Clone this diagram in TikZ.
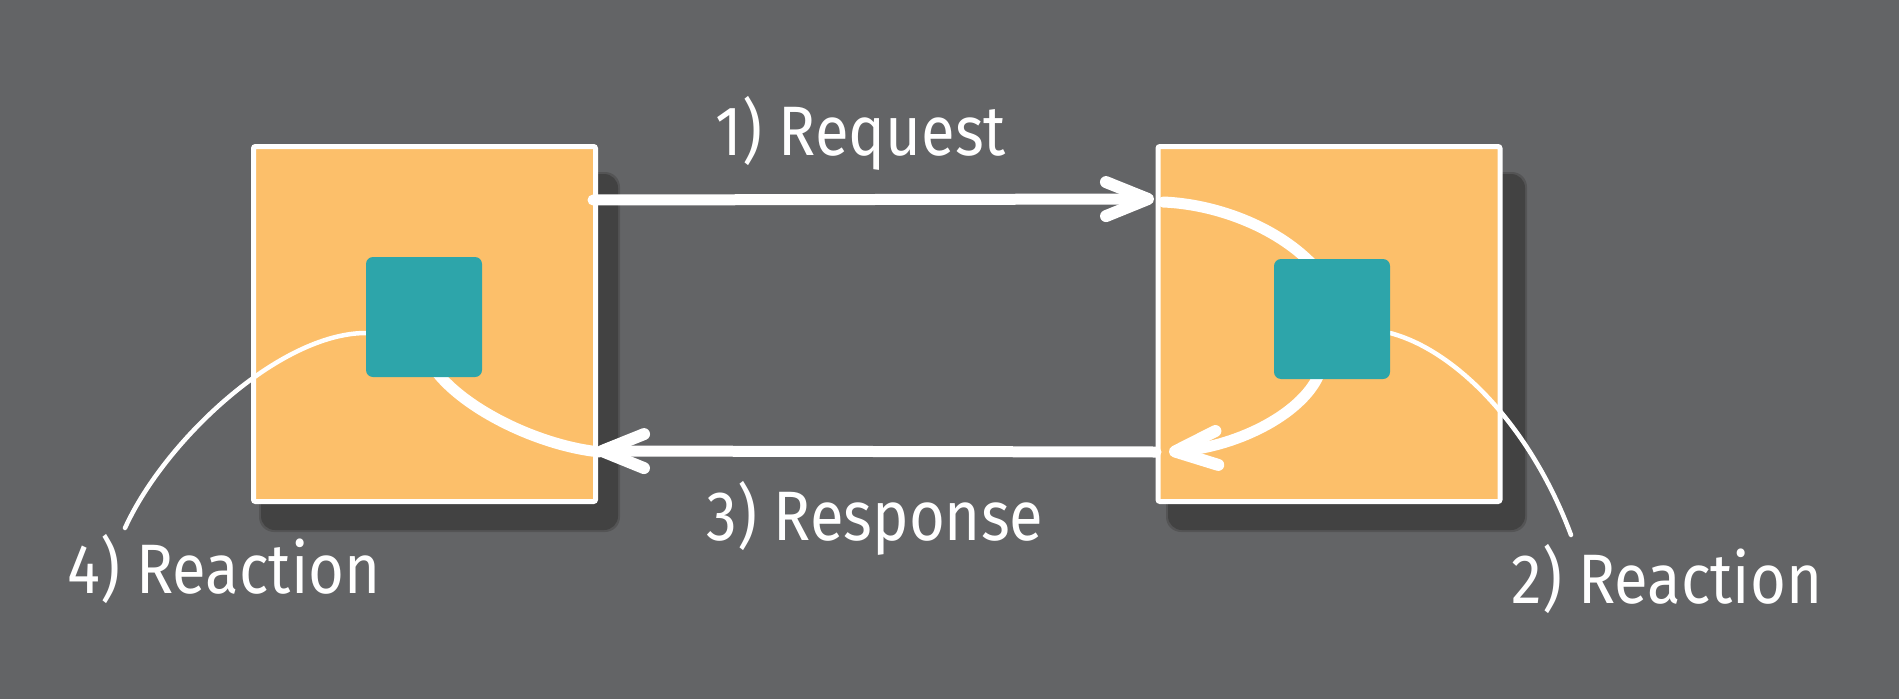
\documentclass[tikz,border=0pt]{standalone}
\usepackage{fontspec}
\setmainfont{Fira Sans}
\usetikzlibrary{arrows.meta}
\definecolor{bgc}{RGB}{99,100,102}
\definecolor{boxc}{RGB}{252,191,106}
\definecolor{tealc}{RGB}{45,165,170}
\definecolor{shadowc}{RGB}{66,66,66}
\newcommand\lbl[1]{\scalebox{0.88}[1]{#1}}
\tikzset{
  bigbox/.style={draw=white, line width=5pt, fill=boxc, rounded corners=2pt, minimum width=342pt, minimum height=355pt, inner sep=0pt},
  core/.style={fill=tealc, rounded corners=7pt, minimum width=116pt, minimum height=120pt, inner sep=0pt},
  shadowbox/.style={fill=shadowc, rounded corners=14pt},
  thick line/.style={draw=white, line width=11pt, line cap=round},
  thin line/.style={draw=white, line width=4.5pt, line cap=round},
  barb/.style={-{Straight Barb[length=42pt, width=34pt, line width=12pt, round]}},
  label/.style={text=white, font=\fontsize{70}{80}\selectfont, anchor=base, inner sep=0pt},
}
\begin{document}
\begin{tikzpicture}[x=1pt,y=-1pt]
\fill[bgc] (0,0) rectangle (1899,699);
\useasboundingbox (0,0) rectangle (1899,699);
% shadows
\fill[shadowc, opacity=0.45, rounded corners=15pt] (259,172) rectangle (620,532);
\fill[shadowc, opacity=0.45, rounded corners=15pt] (1166,172) rectangle (1527,532);
\fill[shadowbox] (261,174) rectangle (618,530);
\fill[shadowbox] (1168,174) rectangle (1525,530);
% boxes
\node[bigbox] (boxL) at (424.5,324) {};
\node[bigbox] (boxR) at (1329,324) {};
% connector points
\coordinate (reqS) at (593,200);
\coordinate (reqE) at (1154,199);
\coordinate (inR) at (1163,202);
\coordinate (outR) at (1169,452);
\coordinate (resS) at (1156,452);
\coordinate (resE) at (596,451);
\coordinate (inL) at (600,452);
\coordinate (lblLpt) at (125,528);
\coordinate (lblRpt) at (1571,535);
% cores positions
\coordinate (tealLc) at (424,317);
\coordinate (tealRc) at (1332,319);
% thin reaction curves
\draw[thin line] (366,333) .. controls (280,333) and (165,440) .. (lblLpt);
\draw[thin line] (1390,333) .. controls (1455,350) and (1530,425) .. (lblRpt);
% request
\draw[thick line, barb] (reqS) -- (reqE);
\draw[thick line] (inR) .. controls (1215,204) and (1275,226) .. (1312,264);
% response
\draw[thick line, barb] (1320,372) .. controls (1305,412) and (1240,446) .. (outR);
\draw[thick line, barb] (resS) -- (resE);
\draw[thick line] (inL) .. controls (540,446) and (465,410) .. (435,370);
% cores
\node[core] (tealL) at (tealLc) {};
\node[core] (tealR) at (tealRc) {};
% labels
\node[label] (req) at (861,155) {\lbl{1) Request}};
\node[label] (res) at (875,540) {\lbl{3) Response}};
\node[label] (reL) at (224,593) {\lbl{4) Reaction}};
\node[label] (reR) at (1667,603) {\lbl{2) Reaction}};
\end{tikzpicture}
\end{document}
